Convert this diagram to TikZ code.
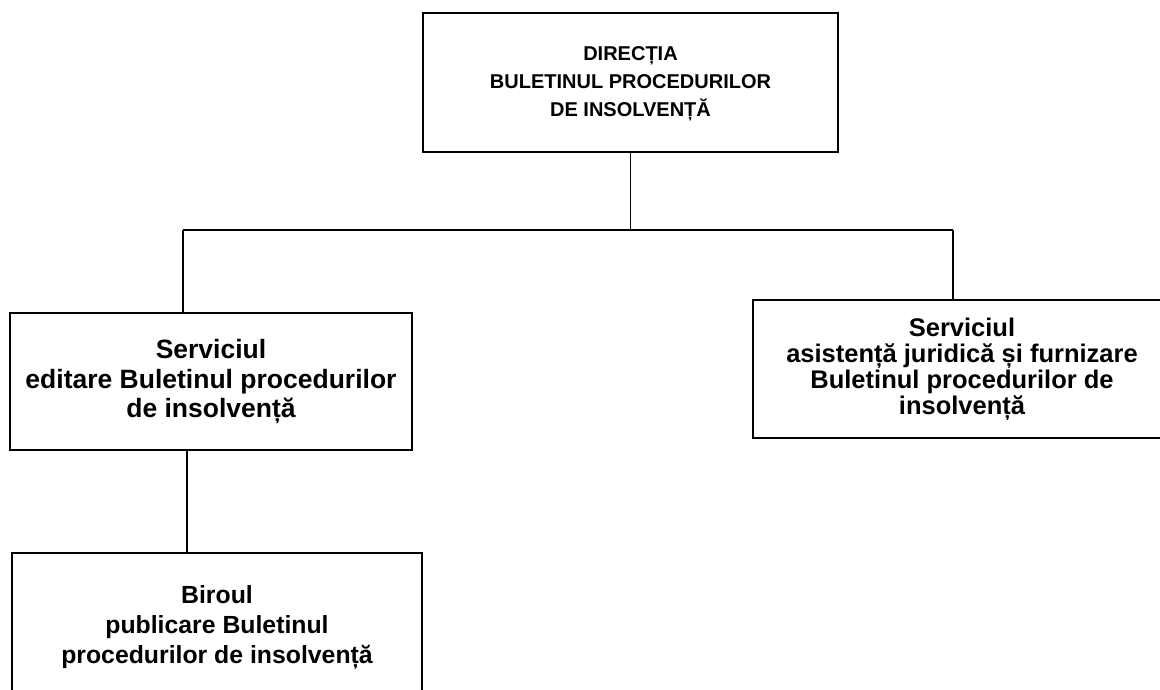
\documentclass[tikz,border=0pt]{standalone}
\usepackage{fontspec}
\setmainfont{Liberation Sans}
\usetikzlibrary{positioning}

\begin{document}
\begin{tikzpicture}[x=1pt, y=-1pt]

\tikzset{unitbox/.style={draw, line width=1.3pt, align=center, inner sep=0pt,
    font=\bfseries\fontsize{25}{29}\selectfont}}
\tikzset{headbox/.style={unitbox, font=\bfseries\fontsize{20}{28}\selectfont}}
\tikzset{link/.style={line width=1.3pt}}

\useasboundingbox (0,0) rectangle (1160,689);

\node[headbox, minimum width=415pt, minimum height=139pt] (directia) at (630.5,82.5)
    {\raisebox{-3pt}{\begin{tabular}{@{}c@{}}DIRECȚIA\\BULETINUL PROCEDURILOR\\DE INSOLVENȚĂ\end{tabular}}};

\node[unitbox, minimum width=402pt, minimum height=137pt, font=\bfseries\fontsize{26.5}{29.5}\selectfont] (servEditare) at (211,381.5)
    {Serviciul\\editare Buletinul procedurilor\\de insolvență};

\node[unitbox, minimum width=418pt, minimum height=138pt, font=\bfseries\fontsize{25.5}{26}\selectfont] (servAsist) at (962,369)
    {Serviciul\\asistență juridică și furnizare\\Buletinul procedurilor de\\insolvență};

\node[unitbox, minimum width=410pt, minimum height=148pt, font=\bfseries\fontsize{24.8}{30}\selectfont] (birouPubl) at (217,627)
    {Biroul\\publicare Buletinul\\procedurilor de insolvență};

% bus
\coordinate (busL) at (183,230);
\coordinate (busR) at (953,230);
\coordinate (downL) at (187,450);

\draw[link] (directia.south) -- (directia.south |- busL);
\draw[link] (busL) -- (busR);
\draw[link] (busL) -- (busL |- servEditare.north);
\draw[link] (busR) -- (busR |- servAsist.north);
\draw[link] (downL |- servEditare.south) -- (downL |- birouPubl.north);

\end{tikzpicture}
\end{document}
